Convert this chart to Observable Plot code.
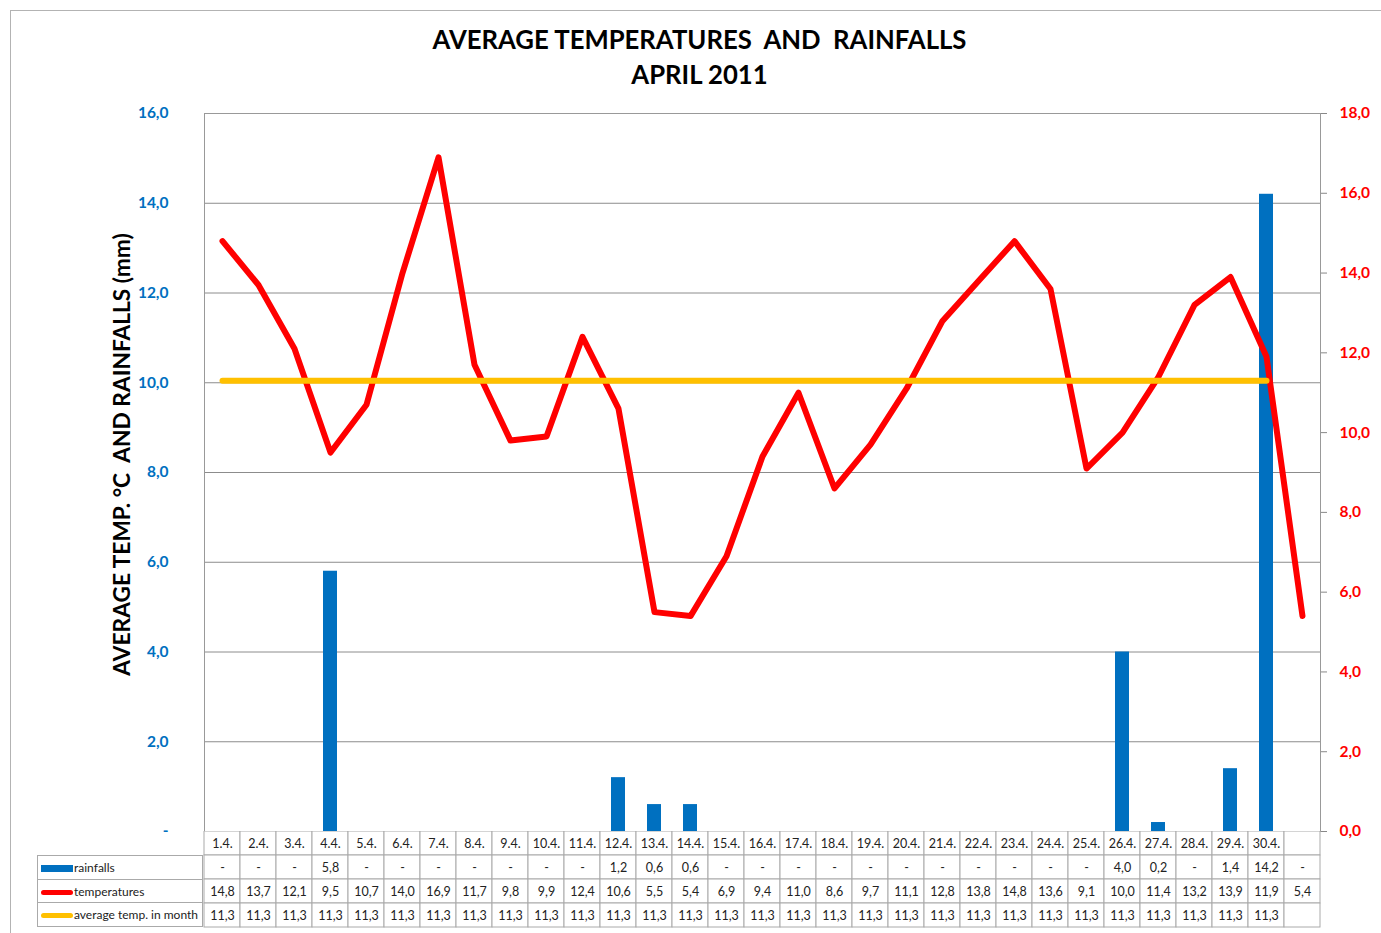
<!DOCTYPE html>
<html><head><meta charset="utf-8">
<script src="https://cdn.jsdelivr.net/npm/d3@7"></script>
<script src="https://cdn.jsdelivr.net/npm/@observablehq/plot@0.6"></script>
<style>
body{margin:0;background:#fff;overflow:hidden;font-family:Lato,"Open Sans",sans-serif}
#wrap{position:relative;width:1381px;height:933px;overflow:hidden}
#border{position:absolute;left:10px;top:10px;width:1420px;height:1000px;border:1.5px solid #b3b3b3;box-sizing:border-box}
#title{position:absolute;left:14px;width:1371px;top:22px;text-align:center;font-weight:bold;font-size:25.7px;line-height:35px;color:#000}
#chart{position:absolute;left:0;top:0}
#table{position:absolute;left:0;top:831px}
#legend{position:absolute;left:37px;top:855px;border-collapse:collapse;font-size:12px;color:#222}
#legend td{border:1px solid #aaa;width:165px;padding:0 0 0 3px;white-space:nowrap;box-sizing:border-box}
.sw{display:inline-block;width:32px;vertical-align:middle;margin-right:1px}
</style></head>
<body><div id="wrap"><div id="border"></div>
<div id="title">AVERAGE TEMPERATURES&nbsp; AND&nbsp; RAINFALLS<br>APRIL 2011</div>
<div id="chart"></div><div id="table"></div>
<table id="legend">
<tr style="height:24px"><td><span class="sw" style="height:7px;background:#0070C0"></span>rainfalls</td></tr>
<tr style="height:23px"><td><span class="sw" style="height:5px;background:#FF0000;border-radius:3px"></span>temperatures</td></tr>
<tr style="height:24px"><td><span class="sw" style="height:5px;background:#FFC000;border-radius:3px"></span>average temp. in month</td></tr>
</table>
</div>
<script>
const days = ["1.4.","2.4.","3.4.","4.4.","5.4.","6.4.","7.4.","8.4.","9.4.","10.4.","11.4.","12.4.","13.4.","14.4.","15.4.","16.4.","17.4.","18.4.","19.4.","20.4.","21.4.","22.4.","23.4.","24.4.","25.4.","26.4.","27.4.","28.4.","29.4.","30.4.",""];
const rainfalls = [null,null,null,5.8,null,null,null,null,null,null,null,1.2,0.6,0.6,null,null,null,null,null,null,null,null,null,null,null,4.0,0.2,null,1.4,14.2,null];
const temperatures = [14.8,13.7,12.1,9.5,10.7,14.0,16.9,11.7,9.8,9.9,12.4,10.6,5.5,5.4,6.9,9.4,11.0,8.6,9.7,11.1,12.8,13.8,14.8,13.6,9.1,10.0,11.4,13.2,13.9,11.9,5.4];
const avgTemp = [11.3,11.3,11.3,11.3,11.3,11.3,11.3,11.3,11.3,11.3,11.3,11.3,11.3,11.3,11.3,11.3,11.3,11.3,11.3,11.3,11.3,11.3,11.3,11.3,11.3,11.3,11.3,11.3,11.3,11.3,null];
const leftTicks = [0,2,4,6,8,10,12,14,16];
const rightTicks = [0,2,4,6,8,10,12,14,16,18];
const leftMax = 16, rightMax = 18;
const yTitle = "AVERAGE TEMP. °C  AND RAINFALLS (mm)";

const fmt = v => v.toFixed(1).replace(".", ",");
const toLeft = v => v * leftMax / rightMax;
const idx = d3.range(days.length);

const rainData = idx.filter(i => rainfalls[i] != null).map(i => ({i, v: rainfalls[i]}));
const tempData = idx.map(i => ({i, v: temperatures[i]}));
const avgData = idx.filter(i => avgTemp[i] != null).map(i => ({i, v: avgTemp[i]}));

const main = Plot.plot({
  width: 1381, height: 860,
  marginTop: 113, marginBottom: 29, marginLeft: 204, marginRight: 61,
  style: {fontFamily: "Lato, 'Open Sans', sans-serif", background: "transparent"},
  x: {type: "band", domain: idx, padding: 0, axis: null},
  y: {domain: [0, leftMax], axis: null},
  marks: [
    Plot.gridY(leftTicks.filter(v => v > 0), {stroke: "#8c8c8c", strokeOpacity: 1}),
    Plot.frame({stroke: "#999"}),
    Plot.barY(rainData, {x: "i", y: "v", fill: "#0070C0", insetLeft: 11, insetRight: 11}),
    Plot.line(tempData, {x: "i", y: d => toLeft(d.v), stroke: "#FF0000", strokeWidth: 6, strokeLinejoin: "round", strokeLinecap: "round"}),
    Plot.line(avgData, {x: "i", y: d => toLeft(d.v), stroke: "#FFC000", strokeWidth: 6, strokeLinecap: "round"}),
    Plot.axisY({anchor: "left", ticks: leftTicks, tickFormat: v => v === 0 ? "-" : fmt(v), tickSize: 0, tickPadding: 36, fill: "#0070C0", fontWeight: "bold", fontSize: 15.5, label: null}),
    Plot.axisY({anchor: "right", ticks: rightTicks.map(toLeft), tickFormat: v => fmt(v * rightMax / leftMax), tickSize: 6, tickPadding: 13, stroke: "#888", fill: "#FF0000", fontWeight: "bold", fontSize: 15.5, label: null}),
    Plot.text([yTitle], {text: d => d, frameAnchor: "left", textAnchor: "middle", rotate: -90, dx: -82, dy: -18, fontSize: 22.7, fontWeight: "bold", fill: "#000"})
  ]
});
document.getElementById("chart").appendChild(main);

const rows = ["date", "rain", "temp", "avg"];
const cells = [];
idx.forEach(i => {
  cells.push({i, row: "date", t: days[i]});
  cells.push({i, row: "rain", t: rainfalls[i] == null ? "-" : fmt(rainfalls[i])});
  cells.push({i, row: "temp", t: fmt(temperatures[i])});
  cells.push({i, row: "avg", t: avgTemp[i] == null ? "" : fmt(avgTemp[i])});
});
const table = Plot.plot({
  width: 1381, height: 97,
  marginTop: 0, marginBottom: 1, marginLeft: 204, marginRight: 61,
  style: {fontFamily: "Lato, 'Open Sans', sans-serif", background: "transparent"},
  x: {type: "band", domain: idx, padding: 0, axis: null},
  y: {type: "band", domain: rows, padding: 0, axis: null},
  marks: [
    Plot.cell(cells, {x: "i", y: "row", fill: "white", stroke: "#aaa", strokeWidth: 1}),
    Plot.text(cells, {x: "i", y: "row", text: "t", fontSize: 12.5, fill: "#222"})
  ]
});
document.getElementById("table").appendChild(table);
</script>
</body></html>
